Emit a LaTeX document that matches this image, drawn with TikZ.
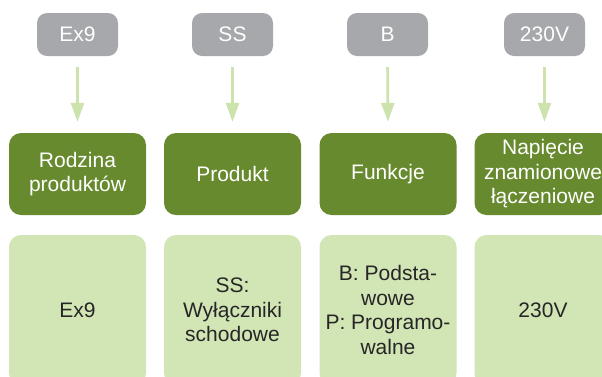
\documentclass[tikz,border=0pt]{standalone}
\usepackage{fontspec}
\setmainfont{Liberation Sans}
\usetikzlibrary{arrows.meta}
\definecolor{hdrgray}{HTML}{A7A8AB}
\definecolor{darkgreen}{HTML}{678A2E}
\definecolor{lightgreen}{HTML}{D2E5B5}
\definecolor{arrowgreen}{HTML}{CDE3AE}
\definecolor{txtdark}{HTML}{262626}
\tikzset{
  graybox/.style={fill=hdrgray, rounded corners=10pt, minimum width=81pt, minimum height=43pt, inner sep=0pt, text=white, font=\fontsize{21}{24.5}\selectfont},
  greenbox/.style={fill=darkgreen, rounded corners=12pt, minimum width=137pt, minimum height=82pt, inner sep=0pt, text=white, align=center, font=\fontsize{21}{24.5}\selectfont},
  lightbox/.style={fill=lightgreen, rounded corners=12pt, minimum width=137pt, minimum height=150pt, inner sep=0pt, text=txtdark, align=center, font=\fontsize{21}{24.5}\selectfont},
  flowarrow/.style={draw=arrowgreen, line width=2.7pt, -{Triangle[width=13pt,length=19pt]}, shorten <=11pt, shorten >=11pt}
}
\begin{document}
\begin{tikzpicture}[x=1pt,y=-1pt]
\useasboundingbox (0,0) rectangle (602,376);
\clip (0,0) rectangle (602,376);
\node[graybox] (g1) at (77.5,34.5) {Ex9};
\node[graybox] (g2) at (232.5,34.5) {SS};
\node[graybox] (g3) at (387.5,34.5) {B};
\node[graybox] (g4) at (544.5,34.5) {230V};
\node[greenbox] (d1) at (77.5,174) {Rodzina\\produktów};
\node[greenbox] (d2) at (232.5,174) {Produkt};
\node[greenbox] (d3) at (388,174) {Funkcje};
\node[greenbox] (d4) at (543,174) {Napięcie\\znamionowe\\łączeniowe};
\node[lightbox] (l1) at (77.5,310) {Ex9};
\node[lightbox] (l2) at (232.5,310) {SS:\\Wyłączniki\\schodowe};
\node[lightbox] (l3) at (388,310) {B: Podsta-\\wowe\\P: Programo-\\walne};
\node[lightbox] (l4) at (543,310) {230V};
\draw[flowarrow] (g1.south) -- (d1.north);
\draw[flowarrow] (g2.south) -- (d2.north);
\draw[flowarrow] (g3.south) -- (d3.north);
\draw[flowarrow] (g4.south) -- (g4.south |- d4.north);
\end{tikzpicture}
\end{document}
